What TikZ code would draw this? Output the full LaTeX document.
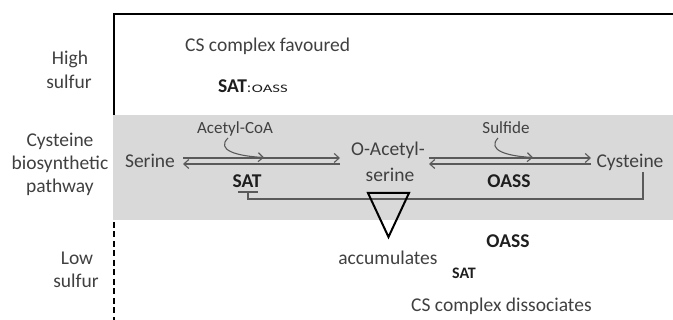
\documentclass[tikz,border=0pt]{standalone}
\usepackage{fontspec}
\setmainfont{Carlito}
\usetikzlibrary{arrows.meta}
\definecolor{txt}{HTML}{404040}
\definecolor{ln}{HTML}{5A5A5A}
\definecolor{band}{HTML}{D9D9D9}
\definecolor{boldtxt}{HTML}{1E1E1E}

\begin{document}
\begin{tikzpicture}[x=1pt,y=-1pt,
  lbl/.style={inner sep=0pt, anchor=base, text=txt, font=\fontsize{19.5}{23}\selectfont},
  small/.style={lbl, font=\fontsize{17}{20}\selectfont},
  enz/.style={inner sep=0pt, anchor=base, text=boldtxt, font=\fontsize{19.5}{23}\selectfont\bfseries},
  rxn/.style={draw=ln, line width=1.1pt, -{Straight Barb[length=5pt,width=9pt,line width=1.1pt]}},
  inhib/.style={draw=ln, line width=1.1pt},
  frame/.style={draw=black, line width=2pt}
]
\useasboundingbox (0,0) rectangle (673,320);

% pathway band and the sulfur-level frame
\fill[band] (113,115) rectangle (673,220);
\draw[frame] (673,14) -- (114,14) -- (114,115);
\draw[frame, dash pattern=on 6pt off 3.5pt] (114,222) -- (114,320);

% side labels
\node[lbl] (hi1) at (70,65) {High};
\node[lbl] (hi2) at (69,89) {sulfur};
\node[lbl] (cb1) at (60,147) {Cysteine};
\node[lbl] (cb2) at (60,170) {biosynthetic};
\node[lbl] (cb3) at (60,193) {pathway};
\node[lbl] (lo1) at (77,265) {Low};
\node[lbl] (lo2) at (76,288) {sulfur};

% high sulfur: complex formed
\node[lbl, anchor=base west] (fav) at (185,52) {CS complex favoured};
\node[enz, anchor=base west] (cplx) at (218,93)
  {SAT\textmd{\fontsize{15}{16}\selectfont:\kern0.8pt\scalebox{1.45}[1]{\fontsize{11.5}{13}\selectfont OASS}}};

% metabolites
\node[lbl] (ser) at (150,168) {Serine};
\node[lbl] (oas1) at (388,156) {O-Acetyl-};
\node[lbl] (oas2) at (390,182) {serine};
\node[lbl] (cys) at (630,168) {Cysteine};
\node[small] (acoa) at (235,134) {Acetyl-CoA};
\node[small] (sulf) at (506,134) {Sulfide};
\node[enz] (sat) at (247,188) {SAT};
\node[enz] (oass) at (509,188) {OASS};

% reaction arrows
\coordinate (r1a) at (183,158); \coordinate (r1b) at (340,158);
\coordinate (r1c) at (340,164); \coordinate (r1d) at (183,164);
\coordinate (r2a) at (429,158); \coordinate (r2b) at (591,158);
\coordinate (r2c) at (591,164); \coordinate (r2d) at (429,164);
\draw[rxn] (r1a) -- (r1b);
\draw[rxn] (r1c) -- (r1d);
\draw[rxn] (r2a) -- (r2b);
\draw[rxn] (r2c) -- (r2d);

% co-substrates joining the forward reactions
\coordinate (ac0) at (228,138); \coordinate (ac1) at (264,157.5);
\coordinate (su0) at (498,138); \coordinate (su1) at (533,157.5);
\draw[rxn] (ac0) .. controls (216,150) and (236,156) .. (ac1);
\draw[rxn] (su0) .. controls (487,150) and (506,156) .. (su1);

% feedback inhibition of SAT by cysteine
\coordinate (fb0) at (643,172); \coordinate (fb1) at (643,199);
\coordinate (fb2) at (248,199); \coordinate (fb3) at (248,192);
\draw[inhib] (fb0) -- (fb1) -- (fb2) -- (fb3);
\draw[inhib] (238,192) -- (258,192);

% accumulation of O-acetylserine
\draw[frame, line join=miter] (368,193) -- (409,193) -- (388.5,237) -- cycle;
\node[lbl] (acc) at (388,265) {accumulates};

% low sulfur: complex dissociated
\node[enz] (oassfree) at (508,248) {OASS};
\node[enz, font=\fontsize{16}{18}\selectfont\bfseries] (satfree) at (464,279) {SAT};
\node[lbl, anchor=base west] (dis) at (411,312) {CS complex dissociates};
\end{tikzpicture}
\end{document}
